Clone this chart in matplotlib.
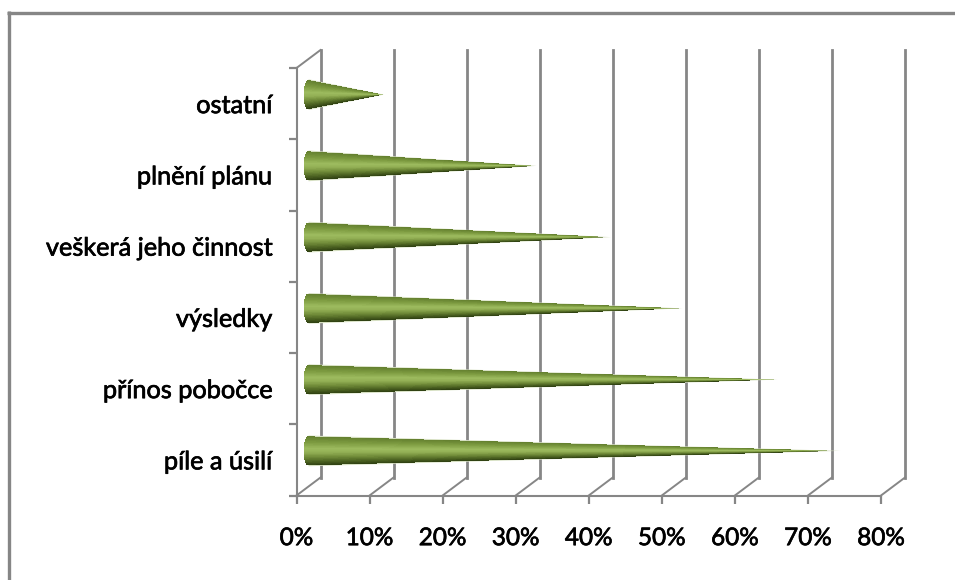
import numpy as np
import matplotlib
matplotlib.use("Agg")
import matplotlib.pyplot as plt
import matplotlib.patheffects as pe
from matplotlib.colors import to_rgb
from matplotlib.lines import Line2D

categories = ["píle a úsilí", "přínos pobočce", "výsledky",
              "veškerá jeho činnost", "plnění plánu", "ostatní"]
values = [72.8, 64.2, 51.2, 41.4, 31.2, 10.3]
x_ticks = [0, 10, 20, 30, 40, 50, 60, 70, 80]

GREY = "#868686"
W, H = 955, 580

plt.rcParams["font.family"] = ["Lato", "DejaVu Sans"]
fig = plt.figure(figsize=(W / 100, H / 100), dpi=100, facecolor="white")

# front plane of the 3D box
left, right, top, bottom = 296.5, 881, 68, 495.5
ax = fig.add_axes([left / W, 1 - bottom / H, (right - left) / W, (bottom - top) / H])
ax.set_xlim(0, 80)
ax.set_ylim(0, 6)
ax.patch.set_visible(False)

# depth of the box in data units (24 px across, 18 px up)
depth_x = 24 / ((right - left) / 80)
depth_y = 18 / ((bottom - top) / 6)

for s in ["top", "right"]:
    ax.spines[s].set_visible(False)
for s in ["left", "bottom"]:
    ax.spines[s].set_color(GREY)
    ax.spines[s].set_linewidth(1.5)

# regular weight thickened a little, the labels are semi-bold
thick = [pe.withStroke(linewidth=0.5, foreground="black")]

ax.set_xticks(x_ticks)
ax.set_xticklabels([f"{t}%" for t in x_ticks], fontsize=17.5, color="black", path_effects=thick)
ax.tick_params(axis="x", length=6, width=1.6, color=GREY, pad=17.5)
ax.set_yticks(range(7))
ax.set_yticklabels([])
ax.tick_params(axis="y", which="major", length=5.5, width=1.6, color=GREY)
ax.set_yticks(np.arange(len(categories)) + 0.5, minor=True)
ax.set_yticklabels(categories, minor=True, fontsize=18.2, color="black", path_effects=thick)
ax.tick_params(axis="y", which="minor", length=0, pad=17.5)

# back wall uprights and the floor/side diagonals
for t in x_ticks:
    ax.plot([t + depth_x] * 2, [depth_y, 6 + depth_y], color=GREY, lw=2.0, clip_on=False, zorder=1)
    ax.plot([t, t + depth_x], [0, depth_y], color=GREY, lw=1.4, clip_on=False, zorder=1)
ax.plot([0, depth_x], [6, 6 + depth_y], color=GREY, lw=1.4, clip_on=False, zorder=1)

# shading across a cone, top edge to bottom edge
stops = [0.0, 0.2, 0.42, 0.55, 0.72, 0.88, 1.0]
stop_cols = np.array([to_rgb(c) for c in
                      ["#64802f", "#7c9a40", "#9dbb5f", "#93b055", "#6f8a38", "#4a6020", "#2f4012"]])
pale = np.array(to_rgb("#c5d2a8"))

half_h = 14.5 / ((bottom - top) / 6)
base_a = 5 / ((right - left) / 80)

nu, nv = 240, 48
u = np.linspace(0, 1, nu)
v = np.linspace(-1, 1, nv)
U, V = np.meshgrid(u, v, indexing="ij")
uc = (u[:-1] + u[1:]) / 2
vc = (v[:-1] + v[1:]) / 2
shade = np.stack([np.interp((vc + 1) / 2, stops, stop_cols[:, i]) for i in range(3)], axis=1)
fade = np.clip((uc - 0.93) / 0.07, 0, 1)[:, None, None]
rgb = shade[None, :, :] * (1 - fade) + pale[None, None, :] * fade

for i, val in enumerate(values):
    xc = depth_x / 2
    yc = i + 0.5 + depth_y / 2
    # pale edge left around the cone
    ax.fill([xc, xc + val, xc], [yc + half_h * 1.06, yc, yc - half_h * 1.06],
            color="#d5dfc0", lw=0, zorder=2)
    X = xc - base_a * np.sqrt(1 - V ** 2) * (1 - U) + val * U
    Y = yc - V * half_h * (1 - U)
    ax.pcolormesh(X, Y, rgb, shading="flat", antialiased=False, zorder=3)

# outer chart frame, open on the right and at the bottom
fig.add_artist(Line2D([8.5 / W, 8.5 / W], [0, 1 - 11 / H], color=GREY, lw=2.4, solid_capstyle="butt"))
fig.add_artist(Line2D([7 / W, 1], [1 - 12.5 / H] * 2, color=GREY, lw=2.4, solid_capstyle="butt"))

fig.savefig("out.png", dpi=100)
